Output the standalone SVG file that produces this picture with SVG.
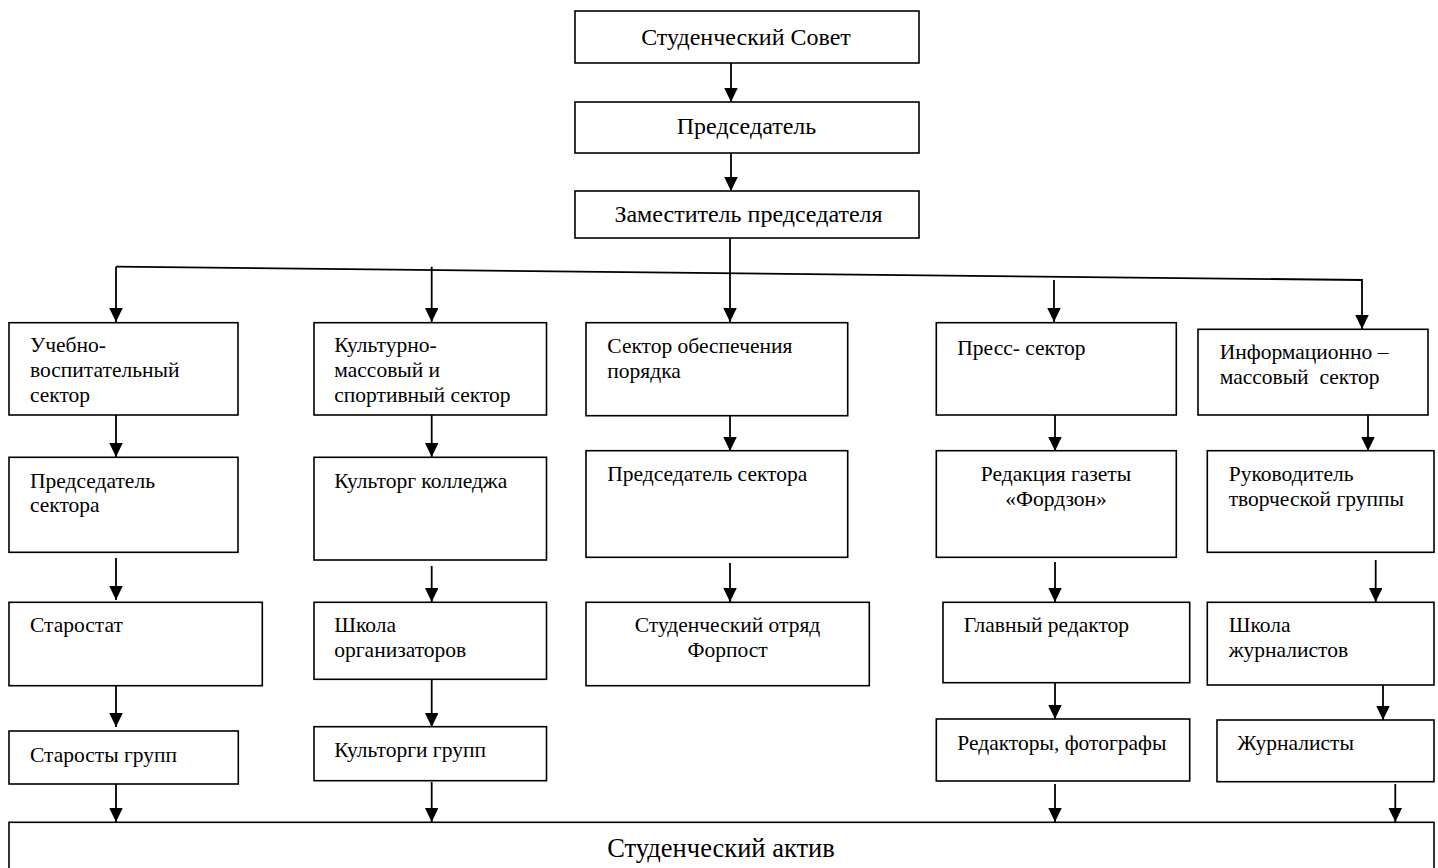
<svg xmlns="http://www.w3.org/2000/svg" width="1438" height="868" viewBox="0 0 1438 868">
<style>
  .box { fill: #ffffff; stroke: #000000; stroke-width: 1.6; }
  .t { font-family: "Liberation Serif", "Times New Roman", serif; font-size: 21.5px; fill: #000000; }
  .tc { text-anchor: middle; }
  .top { font-size: 24px; }
  .big { font-size: 26.5px; }
  .c { fill: none; stroke: #000000; stroke-width: 1.8; }
</style>
<defs>
  <marker id="ah" markerUnits="userSpaceOnUse" markerWidth="16" markerHeight="16" refX="14" refY="6.75" orient="auto">
    <path d="M0,0 L14,6.75 L0,13.5 z" fill="#000000"/>
  </marker>
</defs>
<rect width="1438" height="868" fill="#ffffff"/>

<g id="connectors">
  <line class="c" x1="731" y1="63" x2="731" y2="102" marker-end="url(#ah)"/>
  <line class="c" x1="731" y1="153" x2="731" y2="191" marker-end="url(#ah)"/>
  <line class="c" x1="730" y1="238" x2="730" y2="322" marker-end="url(#ah)"/>
  <polyline class="c" points="116,266.7 1362,280 1362,329" marker-end="url(#ah)"/>
  <line class="c" x1="116" y1="266.7" x2="116" y2="322" marker-end="url(#ah)"/>
  <line class="c" x1="431.7" y1="266.7" x2="431.7" y2="322" marker-end="url(#ah)"/>
  <line class="c" x1="1054" y1="280" x2="1054" y2="322" marker-end="url(#ah)"/>

  <line class="c" x1="116" y1="415" x2="116" y2="457" marker-end="url(#ah)"/>
  <line class="c" x1="116" y1="558" x2="116" y2="600" marker-end="url(#ah)"/>
  <line class="c" x1="116" y1="686" x2="116" y2="727" marker-end="url(#ah)"/>
  <line class="c" x1="116" y1="784" x2="116" y2="822" marker-end="url(#ah)"/>

  <line class="c" x1="431.7" y1="415" x2="431.7" y2="457" marker-end="url(#ah)"/>
  <line class="c" x1="431.7" y1="566" x2="431.7" y2="602" marker-end="url(#ah)"/>
  <line class="c" x1="431.7" y1="679" x2="431.7" y2="727" marker-end="url(#ah)"/>
  <line class="c" x1="431.7" y1="782" x2="431.7" y2="822" marker-end="url(#ah)"/>

  <line class="c" x1="730" y1="416" x2="730" y2="451" marker-end="url(#ah)"/>
  <line class="c" x1="730" y1="563" x2="730" y2="602" marker-end="url(#ah)"/>

  <line class="c" x1="1055" y1="415" x2="1055" y2="451" marker-end="url(#ah)"/>
  <line class="c" x1="1055" y1="562" x2="1055" y2="602" marker-end="url(#ah)"/>
  <line class="c" x1="1055" y1="683" x2="1055" y2="719" marker-end="url(#ah)"/>
  <line class="c" x1="1055" y1="784" x2="1055" y2="822" marker-end="url(#ah)"/>

  <line class="c" x1="1368" y1="415" x2="1368" y2="451" marker-end="url(#ah)"/>
  <line class="c" x1="1375.7" y1="560" x2="1375.7" y2="602" marker-end="url(#ah)"/>
  <line class="c" x1="1383" y1="685" x2="1383" y2="720" marker-end="url(#ah)"/>
  <line class="c" x1="1395.3" y1="784" x2="1395.3" y2="822" marker-end="url(#ah)"/>
</g>

<g id="n-sovet">
  <rect class="box" x="575" y="11" width="344" height="52"/>
  <text class="t tc top" x="746" y="45">Студенческий Совет</text>
</g>
<g id="n-predsedatel">
  <rect class="box" x="575" y="102" width="344" height="51"/>
  <text class="t tc top" x="746.5" y="134">Председатель</text>
</g>
<g id="n-zam">
  <rect class="box" x="575" y="191" width="344" height="47"/>
  <text class="t tc top" x="748.5" y="222">Заместитель председателя</text>
</g>

<g id="n-uchebno">
  <rect class="box" x="9" y="322.7" width="229" height="92.3"/>
  <text class="t" x="30" y="352">Учебно-</text>
  <text class="t" x="30" y="377">воспитательный</text>
  <text class="t" x="30" y="402">сектор</text>
</g>
<g id="n-pred-sektora-1">
  <rect class="box" x="9" y="457.3" width="229" height="95"/>
  <text class="t" x="30" y="487.5">Председатель</text>
  <text class="t" x="30" y="512">сектора</text>
</g>
<g id="n-starostat">
  <rect class="box" x="9" y="602.3" width="253.3" height="83.4"/>
  <text class="t" x="30" y="632">Старостат</text>
</g>
<g id="n-starosty">
  <rect class="box" x="9" y="731" width="229.3" height="53"/>
  <text class="t" x="30" y="761.5">Старосты групп</text>
</g>

<g id="n-kultmass">
  <rect class="box" x="314" y="322.7" width="232.5" height="92.3"/>
  <text class="t" x="334.3" y="352">Культурно-</text>
  <text class="t" x="334.3" y="377">массовый и</text>
  <text class="t" x="334.3" y="402">спортивный сектор</text>
</g>
<g id="n-kultorg">
  <rect class="box" x="314" y="457.3" width="232.5" height="102.7"/>
  <text class="t" x="334.3" y="487.5">Культорг колледжа</text>
</g>
<g id="n-shkola-org">
  <rect class="box" x="314" y="602.3" width="232.5" height="77"/>
  <text class="t" x="334.3" y="632">Школа</text>
  <text class="t" x="334.3" y="657">организаторов</text>
</g>
<g id="n-kultorgi">
  <rect class="box" x="314" y="726.7" width="232.5" height="54"/>
  <text class="t" x="334.3" y="757">Культорги групп</text>
</g>

<g id="n-poryadok">
  <rect class="box" x="586" y="322.7" width="261.7" height="93"/>
  <text class="t" x="607.3" y="353">Сектор обеспечения</text>
  <text class="t" x="607.3" y="377.5">порядка</text>
</g>
<g id="n-pred-sektora-3">
  <rect class="box" x="586" y="450.7" width="261.7" height="106.6"/>
  <text class="t" x="607.3" y="480.5">Председатель сектора</text>
</g>
<g id="n-forpost">
  <rect class="box" x="586" y="602.3" width="283.3" height="83.4"/>
  <text class="t tc" x="727.5" y="632">Студенческий отряд</text>
  <text class="t tc" x="727.5" y="657">Форпост</text>
</g>

<g id="n-press">
  <rect class="box" x="936.3" y="322.7" width="240" height="92.3"/>
  <text class="t" x="957.3" y="354.5">Пресс- сектор</text>
</g>
<g id="n-redakciya">
  <rect class="box" x="936.3" y="450.7" width="240" height="106.6"/>
  <text class="t tc" x="1056" y="480.5">Редакция газеты</text>
  <text class="t tc" x="1056" y="505.5">«Фордзон»</text>
</g>
<g id="n-glavred">
  <rect class="box" x="943" y="602.3" width="246.7" height="80.4"/>
  <text class="t" x="963.7" y="632">Главный редактор</text>
</g>
<g id="n-redaktory">
  <rect class="box" x="936.3" y="719" width="253.4" height="62"/>
  <text class="t" x="957.3" y="749.5">Редакторы, фотографы</text>
</g>

<g id="n-inform">
  <rect class="box" x="1198" y="329.3" width="230" height="85.7"/>
  <text class="t" x="1219.7" y="358.5">Информационно –</text>
  <text class="t" x="1219.7" y="384" xml:space="preserve">массовый  сектор</text>
</g>
<g id="n-rukovoditel">
  <rect class="box" x="1207.3" y="450.7" width="226.7" height="101.6"/>
  <text class="t" x="1228.7" y="480.5">Руководитель</text>
  <text class="t" x="1228.7" y="505.5">творческой группы</text>
</g>
<g id="n-shkola-zhurn">
  <rect class="box" x="1207.3" y="602.3" width="226.7" height="82.7"/>
  <text class="t" x="1228.7" y="632">Школа</text>
  <text class="t" x="1228.7" y="657">журналистов</text>
</g>
<g id="n-zhurnalisty">
  <rect class="box" x="1217" y="720" width="217" height="61.7"/>
  <text class="t" x="1237.3" y="749.5">Журналисты</text>
</g>

<g id="n-aktiv">
  <rect class="box" x="9" y="822.3" width="1425" height="60"/>
  <text class="t tc big" x="721" y="857">Студенческий актив</text>
</g>
</svg>
